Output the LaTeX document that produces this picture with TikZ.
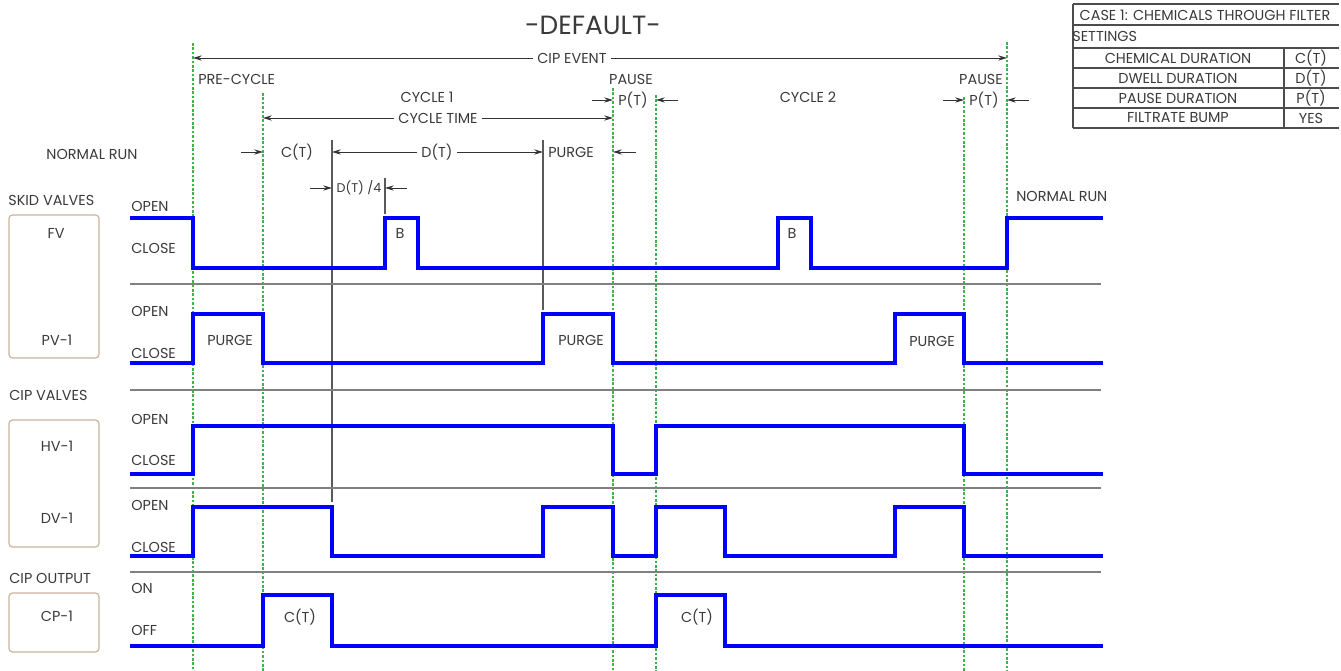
\documentclass[tikz,border=0pt]{standalone}
\usepackage{fontspec}
\setmainfont{Poppins}
\usepackage{xcolor}
\usetikzlibrary{arrows.meta, positioning}
\definecolor{sigblue}{HTML}{0000FF}
\definecolor{guidegreen}{HTML}{3DB54A}
\definecolor{boxtan}{HTML}{CDB29C}
\definecolor{txtgray}{HTML}{3A3A3A}

\begin{document}
\begin{tikzpicture}[
  x=0.02cm, y=-0.02cm,
  lbl/.style={font=\fontsize{8.2}{9}\selectfont, text=txtgray, inner sep=0pt},
  lblw/.style={lbl, anchor=west},
  dimlbl/.style={lbl, inner sep=2.5pt},
  tablbl/.style={font=\fontsize{8.2}{9}\selectfont, text=txtgray, inner sep=0pt},
  sig/.style={line width=1.8pt, draw=sigblue},
  sepline/.style={line width=1.1pt, draw=black!50},
  guide/.style={line width=0.6pt, draw=guidegreen, dash pattern=on 1.5pt off 1pt},
  tickline/.style={line width=0.6pt, draw=black!65},
  dimarrow/.style={-{Stealth[length=5pt, width=3pt]}, line width=0.5pt, draw=black!80},
  valvebox/.style={draw=boxtan, rounded corners=2pt, line width=0.7pt,
                   minimum width=1.8cm, inner sep=0pt},
  tabline/.style={line width=0.8pt, draw=black!70},
]
\useasboundingbox (0,0) rectangle (1341,671);

\foreach \x/\y in {193/43, 263/93, 613/88, 656/95, 964/97, 1007/42}
  \draw[guide] (\x,\y) -- (\x,671);

\node[font=\fontsize{15}{18}\selectfont, text=txtgray, inner sep=0pt] (title) at (593,25) {-DEFAULT-};

% top dimensions
\coordinate (evL) at (193,58);
\coordinate (evR) at (1007,58);
\node[dimlbl] (cipev) at (572,58) {CIP EVENT};
\draw[dimarrow] (cipev) -- (evL);
\draw[dimarrow] (cipev) -- (evR);

\node[lblw] (precyc) at (198,79) {PRE-CYCLE};
\node[lbl] (cyc1) at (427,97) {CYCLE 1};
\node[lbl] (cyc2) at (808,97) {CYCLE 2};

\coordinate (ctL) at (263,118);
\coordinate (ctR) at (613,118);
\node[dimlbl] (cyctime) at (438,118) {CYCLE TIME};
\draw[dimarrow] (cyctime) -- (ctL);
\draw[dimarrow] (cyctime) -- (ctR);

\node[lbl] (normrun) at (92,154) {NORMAL RUN};

\coordinate (cA) at (241,152);
\coordinate (cB) at (263,152);
\draw[dimarrow] (cA) -- (cB);
\node[lbl] (chemlbl) at (297,152) {C(T)};
\coordinate (dL) at (332,152);
\coordinate (dR) at (543,152);
\node[dimlbl] (dwelllbl) at (437,152) {D(T)};
\draw[dimarrow] (dwelllbl) -- (dL);
\draw[dimarrow] (dwelllbl) -- (dR);
\node[lblw] (purgelbl) at (548,152) {PURGE};
\coordinate (pA) at (636,152);
\coordinate (pB) at (613,152);
\draw[dimarrow] (pA) -- (pB);

\coordinate (qA) at (310,188);
\coordinate (qB) at (332,188);
\coordinate (qC) at (407,188);
\coordinate (qD) at (385,188);
\draw[dimarrow] (qA) -- (qB);
\draw[dimarrow] (qC) -- (qD);
\node[lbl, font=\fontsize{7.2}{8}\selectfont] (quarter) at (359,188) {D(T) /4};

\node[lbl] (pause1) at (631,79) {PAUSE};
\node[lbl] (ptime1) at (633,100) {P(T)};
\coordinate (uA) at (592,100);
\coordinate (uB) at (613,100);
\coordinate (uC) at (678,100);
\coordinate (uD) at (656,100);
\draw[dimarrow] (uA) -- (uB);
\draw[dimarrow] (uC) -- (uD);

\node[lbl] (pause2) at (981,79) {PAUSE};
\node[lbl] (ptime2) at (984,100) {P(T)};
\coordinate (vA) at (943,100);
\coordinate (vB) at (964,100);
\coordinate (vC) at (1029,100);
\coordinate (vD) at (1007,100);
\draw[dimarrow] (vA) -- (vB);
\draw[dimarrow] (vC) -- (vD);

\node[lblw] (normrun2) at (1016,196) {NORMAL RUN};

\draw[tickline] (332,140) -- (332,502);
\draw[tickline] (385,178) -- (385,214);
\draw[tickline] (543,140) -- (543,310);

% valve groups
\node[lblw] (skid) at (8,200) {SKID VALVES};
\node[valvebox, minimum height=2.86cm] (skidbox) at (54,286.5) {};
\node[lbl] (fv) at (56,233) {FV};
\node[lbl] (pv) at (57,340) {PV-1};

\node[lblw] (cipv) at (9,395) {CIP VALVES};
\node[valvebox, minimum height=2.54cm] (cipbox) at (54,483.5) {};
\node[lbl] (hv) at (57,446) {HV-1};
\node[lbl] (dv) at (57,518) {DV-1};

\node[lblw] (cipout) at (9,578) {CIP OUTPUT};
\node[valvebox, minimum height=1.18cm] (outbox) at (54,622.5) {};
\node[lbl] (cp) at (57,616) {CP-1};

\foreach \y/\t in {206/OPEN, 248/CLOSE, 311/OPEN, 353/CLOSE, 419/OPEN, 460/CLOSE,
                   505/OPEN, 547/CLOSE, 588/ON, 630/OFF}
  \node[lblw] at (131,\y) {\t};

\foreach \y in {284, 390, 488, 572}
  \draw[sepline] (130,\y) -- (1101,\y);

% signals
\draw[sig] (130,218) -| (193,268) -| (385,218) -| (418,268) -| (778,218)
  -| (811,268) -| (1007,218) -- (1103,218);
\draw[sig] (130,363) -| (193,314) -| (263,363) -| (543,314) -| (613,363)
  -| (895,314) -| (964,363) -- (1103,363);
\draw[sig] (130,474) -| (193,426) -| (613,474) -| (656,426) -| (964,474) -- (1103,474);
\draw[sig] (130,556) -| (193,507) -| (332,556) -| (543,507) -| (613,556)
  -| (656,507) -| (725,556) -| (895,507) -| (964,556) -- (1103,556);
\draw[sig] (130,646) -| (263,595) -| (332,646) -| (656,595) -| (725,646) -- (1103,646);

\node[lbl] (bump1) at (400,233) {B};
\node[lbl] (bump2) at (792,233) {B};
\node[lbl] (purge1) at (230,340) {PURGE};
\node[lbl] (purge2) at (581,340) {PURGE};
\node[lbl] (purge3) at (932,341) {PURGE};
\node[lbl] (chem1) at (300,617) {C(T)};
\node[lbl] (chem2) at (697,617) {C(T)};

% settings table
\foreach \y in {4, 25, 48, 68, 88, 108, 128}
  \draw[tabline] (1073,\y) -- (1339,\y);
\draw[tabline] (1073,4) -- (1073,128);
\draw[tabline] (1284,48) -- (1284,128);
\node[tablbl] (case) at (1205,15) {CASE 1: CHEMICALS THROUGH FILTER};
\node[tablbl, anchor=west] (settings) at (1072,36) {SETTINGS};
\node[tablbl] (chemdur) at (1178,58) {CHEMICAL DURATION};
\node[tablbl] (dwelldur) at (1178,78) {DWELL DURATION};
\node[tablbl] (pausedur) at (1178,98) {PAUSE DURATION};
\node[tablbl] (filtbump) at (1178,118) {FILTRATE BUMP};
\node[tablbl] (chemval) at (1311,58) {C(T)};
\node[tablbl] (dwellval) at (1311,78) {D(T)};
\node[tablbl] (pauseval) at (1311,98) {P(T)};
\node[tablbl] (bumpval) at (1311,118) {YES};

\end{tikzpicture}
\end{document}
